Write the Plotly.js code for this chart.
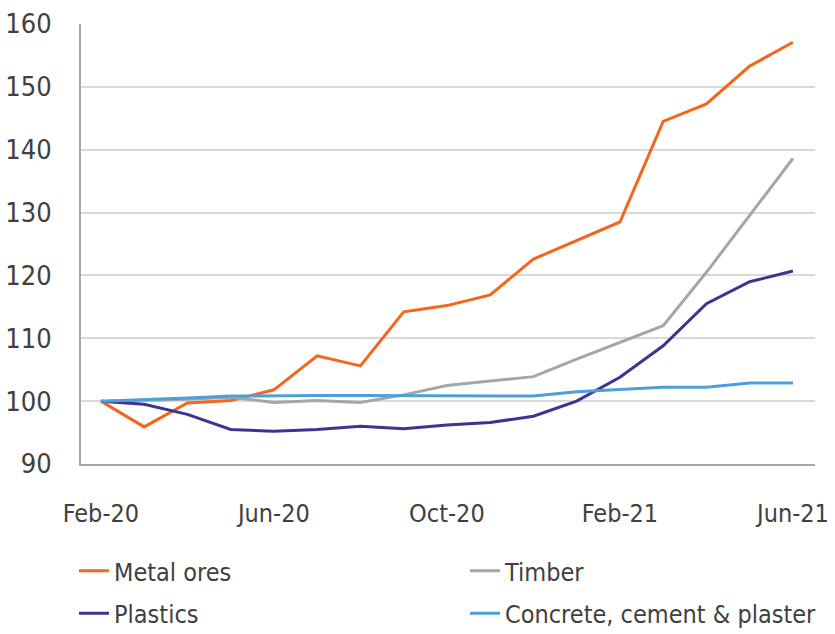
<!DOCTYPE html>
<html>
<head>
<meta charset="utf-8">
<script src="https://cdn.plot.ly/plotly-3.0.1.min.js"></script>
<style>html,body{margin:0;padding:0;background:#fff;}#chart{width:835px;height:634px;}</style>
</head>
<body>
<div id="chart"></div>
<script>
const months = ['Feb-20','Mar-20','Apr-20','May-20','Jun-20','Jul-20','Aug-20','Sep-20','Oct-20','Nov-20','Dec-20','Jan-21','Feb-21','Mar-21','Apr-21','May-21','Jun-21'];
const tickLabels = ['Feb-20','Jun-20','Oct-20','Feb-21','Jun-21'];
const metalOres = [100, 95.9, 99.7, 100.1, 101.8, 107.2, 105.6, 114.2, 115.2, 116.9, 122.6, 125.6, 128.5, 144.5, 147.3, 153.3, 157.1];
const timber    = [100, 100.1, 100.3, 100.6, 99.8, 100.1, 99.8, 101.0, 102.5, 103.2, 103.9, 106.7, 109.3, 112.0, 120.5, 129.6, 138.6];
const plastics  = [100, 99.5, 97.9, 95.5, 95.2, 95.5, 96.0, 95.6, 96.2, 96.6, 97.6, 100.0, 103.8, 108.8, 115.5, 119.0, 120.7];
const concrete  = [100, 100.2, 100.5, 100.8, 100.9, 100.9, 100.9, 100.9, 100.8, 100.8, 100.8, 101.5, 101.8, 102.2, 102.2, 102.9, 102.9];

const FONT = '"DejaVu Sans Condensed", "DejaVu Sans", sans-serif';
const mk = (name, y, color, leg) => ({x: months, y: y, name: name, type: 'scatter', mode: 'lines',
  line: {color: color, width: 3}, legend: leg, legendgroup: name});
const data = [
  mk('Metal ores', metalOres, '#f4661b', 'legend'),
  mk('Timber', timber, '#a6a6a6', 'legend2'),
  mk('Plastics', plastics, '#3b3493', 'legend'),
  mk('Concrete, cement & plaster', concrete, '#4d9fdc', 'legend2')
];
const legBase = {orientation: 'v', xref: 'container', yref: 'container', xanchor: 'left', yanchor: 'top',
  font: {size: 25, family: FONT, color: '#404040'}, tracegroupgap: 7, bgcolor: 'rgba(0,0,0,0)'};
const layout = {
  width: 835, height: 634,
  margin: {l: 81, r: 20, t: 24, b: 170, autoexpand: false},
  paper_bgcolor: '#fff', plot_bgcolor: '#fff',
  font: {family: FONT, color: '#404040'},
  showlegend: true,
  legend: Object.assign({}, legBase, {x: 74/835, y: 1 - 548/634}),
  legend2: Object.assign({}, legBase, {x: 465/835, y: 1 - 548/634}),
  xaxis: {type: 'category', range: [-0.46, 16.51], tickvals: tickLabels, ticktext: tickLabels, tickangle: 0,
          showgrid: false, showline: true, linecolor: '#a6a6a6', linewidth: 2,
          ticks: 'outside', ticklen: 26, tickcolor: 'rgba(0,0,0,0)',
          tickfont: {size: 25, family: FONT, color: '#404040'}, zeroline: false},
  yaxis: {range: [90, 160], dtick: 10, tick0: 90, showgrid: true, gridcolor: '#d9d9d9', gridwidth: 2,
          showline: true, linecolor: '#a6a6a6', linewidth: 2, zeroline: false,
          ticks: 'outside', ticklen: 22, tickcolor: 'rgba(0,0,0,0)',
          tickfont: {size: 27, family: FONT, color: '#404040'}}
};
Plotly.newPlot('chart', data, layout, {displayModeBar: false, staticPlot: true});
</script>
</body>
</html>
